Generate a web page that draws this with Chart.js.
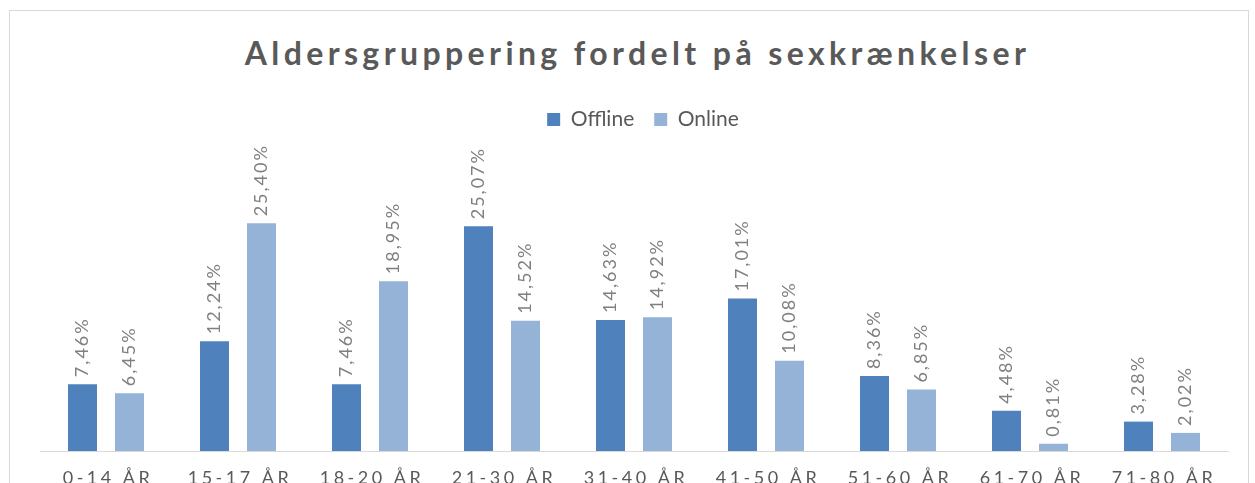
<!DOCTYPE html>
<html>
<head>
<meta charset="utf-8">
<script src="https://cdn.jsdelivr.net/npm/chart.js@4"></script>
<style>
  html, body { margin: 0; padding: 0; background: #fff; overflow: hidden; }
  body { width: 1255px; height: 483px; position: relative; }
  #frame {
    position: absolute; left: 9px; top: 10px; width: 1240px; height: 520px;
    border: 1px solid #d9d9d9; box-sizing: border-box;
  }
  #title {
    position: absolute; left: 0; top: 33px; width: 1275px; text-align: center;
    font-family: "Lato", sans-serif; font-weight: bold; font-size: 32px;
    letter-spacing: 4.4px; color: #595959; line-height: 40px;
  }
  #wrap { position: absolute; left: 0; top: 0; width: 1255px; height: 520px; }
</style>
</head>
<body>
<div id="frame"></div>
<div id="title">Aldersgruppering fordelt på sexkrænkelser</div>
<div id="wrap"><canvas id="age-chart"></canvas></div>
<script>
const categories = ['0-14 ÅR', '15-17 ÅR', '18-20 ÅR', '21-30 ÅR', '31-40 ÅR', '41-50 ÅR', '51-60 ÅR', '61-70 ÅR', '71-80 ÅR'];
const offline = [7.46, 12.24, 7.46, 25.07, 14.63, 17.01, 8.36, 4.48, 3.28];
const online = [6.45, 25.40, 18.95, 14.52, 14.92, 10.08, 6.85, 0.81, 2.02];
const seriesNames = ['Offline', 'Online'];

function pct(v) {
    return v.toFixed(2).replace('.', ',') + '%';
}

// rotated value labels above each bar + spaced category labels under the axis
const labelPlugin = {
    id: 'labels',
    afterLayout(chart) {
        // legend sits a bit right of the plot centre in the original
        chart.legend.left += 9;
        chart.legend.right += 9;
    },
    afterDatasetsDraw(chart) {
        const ctx = chart.ctx;
        ctx.save();
        ctx.fillStyle = '#7f7f7f';
        ctx.font = '18px Lato';
        ctx.letterSpacing = '2px';
        ctx.textAlign = 'left';
        ctx.textBaseline = 'middle';
        chart.data.datasets.forEach((ds, i) => {
            const meta = chart.getDatasetMeta(i);
            meta.data.forEach((bar, j) => {
                ctx.save();
                ctx.translate(bar.x, bar.y - 7);
                ctx.rotate(-Math.PI / 2);
                ctx.fillText(pct(ds.data[j]), 0, 0);
                ctx.restore();
            });
        });

        const xScale = chart.scales.x;
        ctx.fillStyle = '#595959';
        ctx.font = '18px Lato';
        ctx.letterSpacing = '3.5px';
        ctx.textAlign = 'center';
        categories.forEach((c, i) => {
            ctx.fillText(c, xScale.getPixelForTick(i) + 2, chart.chartArea.bottom + 27);
        });
        ctx.restore();
    }
};

const ctx = document.getElementById('age-chart').getContext('2d');
const chart = new Chart(ctx, {
    type: 'bar',
    data: {
        labels: categories,
        datasets: [{
            label: seriesNames[0],
            data: offline,
            backgroundColor: '#4f81bd',
            categoryPercentage: 0.712,
            barPercentage: 0.617
        }, {
            label: seriesNames[1],
            data: online,
            backgroundColor: '#95b3d7',
            categoryPercentage: 0.712,
            barPercentage: 0.617
        }]
    },
    options: {
        responsive: true,
        maintainAspectRatio: false,
        animation: false,
        layout: {
            padding: { top: 89, left: 40, right: 27, bottom: 61 }
        },
        plugins: {
            legend: {
                position: 'top',
                labels: {
                    boxWidth: 13,
                    boxHeight: 13,
                    padding: 20,
                    color: '#595959',
                    font: { family: 'Lato', size: 21 }
                }
            },
            tooltip: { enabled: false }
        },
        scales: {
            x: {
                grid: { display: false },
                border: { color: '#d9d9d9', width: 1 },
                ticks: { display: false }
            },
            y: {
                display: false,
                min: 0,
                max: 34.7
            }
        }
    },
    plugins: [labelPlugin]
});
</script>
</body>
</html>
